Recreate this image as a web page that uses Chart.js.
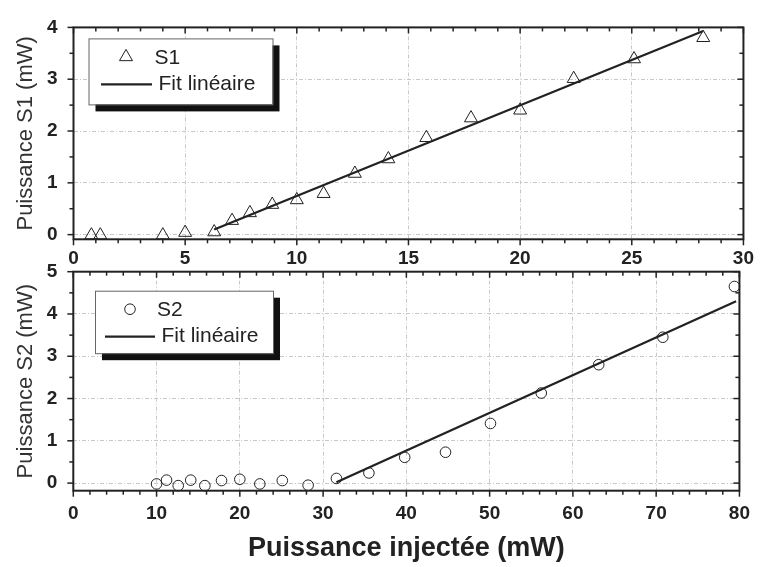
<!DOCTYPE html>
<html>
<head>
<meta charset="utf-8">
<script src="https://cdn.jsdelivr.net/npm/chart.js@4/dist/chart.umd.min.js"></script>
<style>
    html, body { margin: 0; padding: 0; background: #fff; }
    #wrap { position: relative; width: 762px; height: 567px; }
    #wrap canvas { position: absolute; left: 0; top: 0; }
</style>
</head>
<body>
<div id="wrap">
    <canvas id="chartS1" width="762" height="270"></canvas>
    <canvas id="chartS2" width="762" height="567"></canvas>
</div>
<script>
// ============================================
// S1 / S2 output power vs injected power
// ============================================

// --- top panel (S1) ---
const s1Injected = [0.8, 1.2, 4.0, 5.0, 6.3, 7.1, 7.9, 8.9, 10.0, 11.2, 12.6, 14.1, 15.8, 17.8, 20.0, 22.4, 25.1, 28.2];
const s1Power = [-0.01, -0.01, -0.01, 0.04, 0.05, 0.27, 0.42, 0.58, 0.67, 0.79, 1.18, 1.46, 1.87, 2.25, 2.40, 3.01, 3.39, 3.80];
const s1FitX = [6.3, 28.2];
const s1FitY = [0.10, 3.93];
const s1XTicks = [0, 5, 10, 15, 20, 25, 30];
const s1YTicks = [0, 1, 2, 3, 4];

// --- bottom panel (S2) ---
const s2Injected = [10.0, 11.2, 12.6, 14.1, 15.8, 17.8, 20.0, 22.4, 25.1, 28.2, 31.6, 35.5, 39.8, 44.7, 50.1, 56.2, 63.1, 70.8, 79.4];
const s2Power = [-0.02, 0.07, -0.06, 0.07, -0.06, 0.06, 0.09, -0.02, 0.06, -0.05, 0.11, 0.24, 0.61, 0.73, 1.41, 2.13, 2.80, 3.45, 4.65];
const s2FitX = [31.6, 79.6];
const s2FitY = [0.02, 4.30];
const s2XTicks = [0, 10, 20, 30, 40, 50, 60, 70, 80];
const s2YTicks = [0, 1, 2, 3, 4, 5];

const fitLabel = 'Fit linéaire';
const xTitle = 'Puissance injectée (mW)';

const FONT = "'Liberation Sans', Arial, Helvetica, sans-serif";
const INK = '#222';

function toPoints(xs, ys) {
    return xs.map((x, i) => ({ x: x, y: ys[i] }));
}

function stroke(ctx, x1, y1, x2, y2) {
    ctx.beginPath();
    ctx.moveTo(x1, y1);
    ctx.lineTo(x2, y2);
    ctx.stroke();
}

function drawMarker(ctx, style, r, x, y) {
    ctx.beginPath();
    if (style === 'triangle') {
        let rad = 0;
        ctx.moveTo(x + Math.sin(rad) * r, y - Math.cos(rad) * r);
        rad += Math.PI * 2 / 3;
        ctx.lineTo(x + Math.sin(rad) * r, y - Math.cos(rad) * r);
        rad += Math.PI * 2 / 3;
        ctx.lineTo(x + Math.sin(rad) * r, y - Math.cos(rad) * r);
        ctx.closePath();
    } else {
        ctx.arc(x, y, r, 0, Math.PI * 2);
    }
    ctx.stroke();
}

// frame, major/minor ticks (out on left/bottom, in on top/right) and boxed legend
const frameLegend = {
    id: 'frameLegend',
    afterDraw(chart, args, opts) {
        const ctx = chart.ctx;
        const a = chart.chartArea;
        const xs = chart.scales.x;
        const ys = chart.scales.y;
        ctx.save();
        ctx.strokeStyle = INK;
        ctx.lineWidth = 1.5;

        const tickX = (v, len) => {
            const px = xs.getPixelForValue(v);
            stroke(ctx, px, a.bottom, px, a.bottom + len);
            stroke(ctx, px, a.top, px, a.top + len);
        };
        const tickY = (v, len) => {
            const py = ys.getPixelForValue(v);
            stroke(ctx, a.left, py, a.left - len, py);
            stroke(ctx, a.right, py, a.right - len, py);
        };
        const minors = (min, max, step, majors) => {
            const out = [];
            for (let v = Math.ceil(min / step) * step; v <= max + 1e-9; v += step) {
                const r = Math.round(v * 1000) / 1000;
                if (!majors.some(m => Math.abs(m - r) < 1e-6)) out.push(r);
            }
            return out;
        };
        opts.xMajor.forEach(v => tickX(v, 6));
        minors(xs.min, xs.max, opts.xMinor, opts.xMajor).forEach(v => tickX(v, 4));
        opts.yMajor.forEach(v => tickY(v, 6));
        minors(ys.min, ys.max, opts.yMinor, opts.yMajor).forEach(v => tickY(v, 4));

        ctx.lineWidth = 2;
        ctx.strokeRect(a.left, a.top, a.right - a.left, a.bottom - a.top);

        // legend
        const L = opts.legend;
        const bx = a.left + L.x, by = a.top + L.y;
        ctx.fillStyle = '#111';
        ctx.fillRect(bx + 7, by + 7, L.w, L.h);
        ctx.fillStyle = '#fff';
        ctx.fillRect(bx, by, L.w, L.h);
        ctx.strokeStyle = '#666';
        ctx.lineWidth = 1;
        ctx.strokeRect(bx + 0.5, by + 0.5, L.w, L.h);

        ctx.strokeStyle = INK;
        ctx.lineWidth = 1;
        drawMarker(ctx, L.marker, L.radius, bx + L.markerX, by + 18.5);
        ctx.lineWidth = 2.3;
        stroke(ctx, bx + L.lineX1, by + 46, bx + L.lineX2, by + 46);

        ctx.fillStyle = INK;
        ctx.font = '21px ' + FONT;
        ctx.textBaseline = 'middle';
        ctx.textAlign = 'left';
        ctx.fillText(L.label, bx + L.textX1, by + 20);
        ctx.fillText(fitLabel, bx + L.textX2, by + 46);
        ctx.restore();
    }
};

function buildOptions(cfg) {
    return {
        responsive: false,
        animation: false,
        events: [],
        layout: { padding: cfg.padding },
        plugins: {
            legend: { display: false },
            tooltip: { enabled: false },
            frameLegend: cfg.frame
        },
        scales: {
            x: {
                type: 'linear',
                min: cfg.xMin,
                max: cfg.xMax,
                afterBuildTicks: s => { s.ticks = cfg.xTicks.map(v => ({ value: v })); },
                afterFit: s => { s.height = cfg.xHeight; },
                grid: { color: '#c8c8c8', lineWidth: 1, drawTicks: false },
                border: { display: false, dash: [4, 2, 1, 2] },
                ticks: { color: INK, padding: cfg.xPad, font: { family: FONT, size: 19, weight: 'bold' }, maxRotation: 0 },
                title: cfg.xTitle
            },
            y: {
                type: 'linear',
                min: cfg.yMin,
                max: cfg.yMax,
                afterBuildTicks: s => { s.ticks = cfg.yTicks.map(v => ({ value: v })); },
                afterFit: s => { s.width = cfg.yWidth; },
                grid: { color: '#c8c8c8', lineWidth: 1, drawTicks: false },
                border: { display: false, dash: [4, 2, 1, 2] },
                ticks: { color: INK, padding: 16, font: { family: FONT, size: 19, weight: 'bold' } },
                title: {
                    display: true,
                    text: cfg.yTitle,
                    color: '#333',
                    font: { family: FONT, size: 22 },
                    padding: { top: 13, bottom: 0 }
                }
            }
        }
    };
}

function buildDatasets(xs, ys, fitX, fitY, style, radius) {
    return [
        {
            data: toPoints(xs, ys),
            pointStyle: style,
            pointRadius: radius,
            pointBorderWidth: 1,
            pointBorderColor: INK,
            pointBackgroundColor: 'rgba(0,0,0,0)',
            showLine: false,
            clip: false
        },
        {
            data: toPoints(fitX, fitY),
            showLine: true,
            borderColor: INK,
            borderWidth: 2.3,
            pointRadius: 0,
            clip: false
        }
    ];
}

new Chart(document.getElementById('chartS1'), {
    type: 'scatter',
    data: { datasets: buildDatasets(s1Injected, s1Power, s1FitX, s1FitY, 'triangle', 7.5) },
    options: buildOptions({
        padding: { top: 19, right: 12.5, left: 0, bottom: 0 },
        xMin: 0, xMax: 30, xTicks: s1XTicks, xHeight: 30.7, xPad: 8,
        yMin: -0.09, yMax: 4, yTicks: s1YTicks, yWidth: 73.5,
        yTitle: 'Puissance S1 (mW)',
        xTitle: { display: false },
        frame: {
            xMajor: s1XTicks, xMinor: 1, yMajor: s1YTicks, yMinor: 0.5,
            legend: { x: 15, y: 11, w: 184, h: 66, marker: 'triangle', radius: 7.5, markerX: 37.5,
                      lineX1: 12.5, lineX2: 63.5, textX1: 66, textX2: 70, label: 'S1' }
        }
    }),
    plugins: [frameLegend]
});

new Chart(document.getElementById('chartS2'), {
    type: 'scatter',
    data: { datasets: buildDatasets(s2Injected, s2Power, s2FitX, s2FitY, 'circle', 5.3) },
    options: buildOptions({
        padding: { top: 271.7, right: 12.7, left: 0, bottom: 0 },
        xMin: 0, xMax: 80, xTicks: s2XTicks, xHeight: 76.3, xPad: 12,
        yMin: -0.18, yMax: 5, yTicks: s2YTicks, yWidth: 73.3,
        yTitle: 'Puissance S2 (mW)',
        xTitle: {
            display: true,
            text: xTitle,
            color: INK,
            font: { family: FONT, size: 27, weight: 'bold' },
            padding: { top: 0, bottom: 2 }
        },
        frame: {
            xMajor: s2XTicks, xMinor: 2, yMajor: s2YTicks, yMinor: 0.5,
            legend: { x: 21.7, y: 19, w: 178, h: 62.5, marker: 'circle', radius: 5.3, markerX: 35,
                      lineX1: 10, lineX2: 60, textX1: 62, textX2: 66.5, label: 'S2' }
        }
    }),
    plugins: [frameLegend]
});
</script>
</body>
</html>
